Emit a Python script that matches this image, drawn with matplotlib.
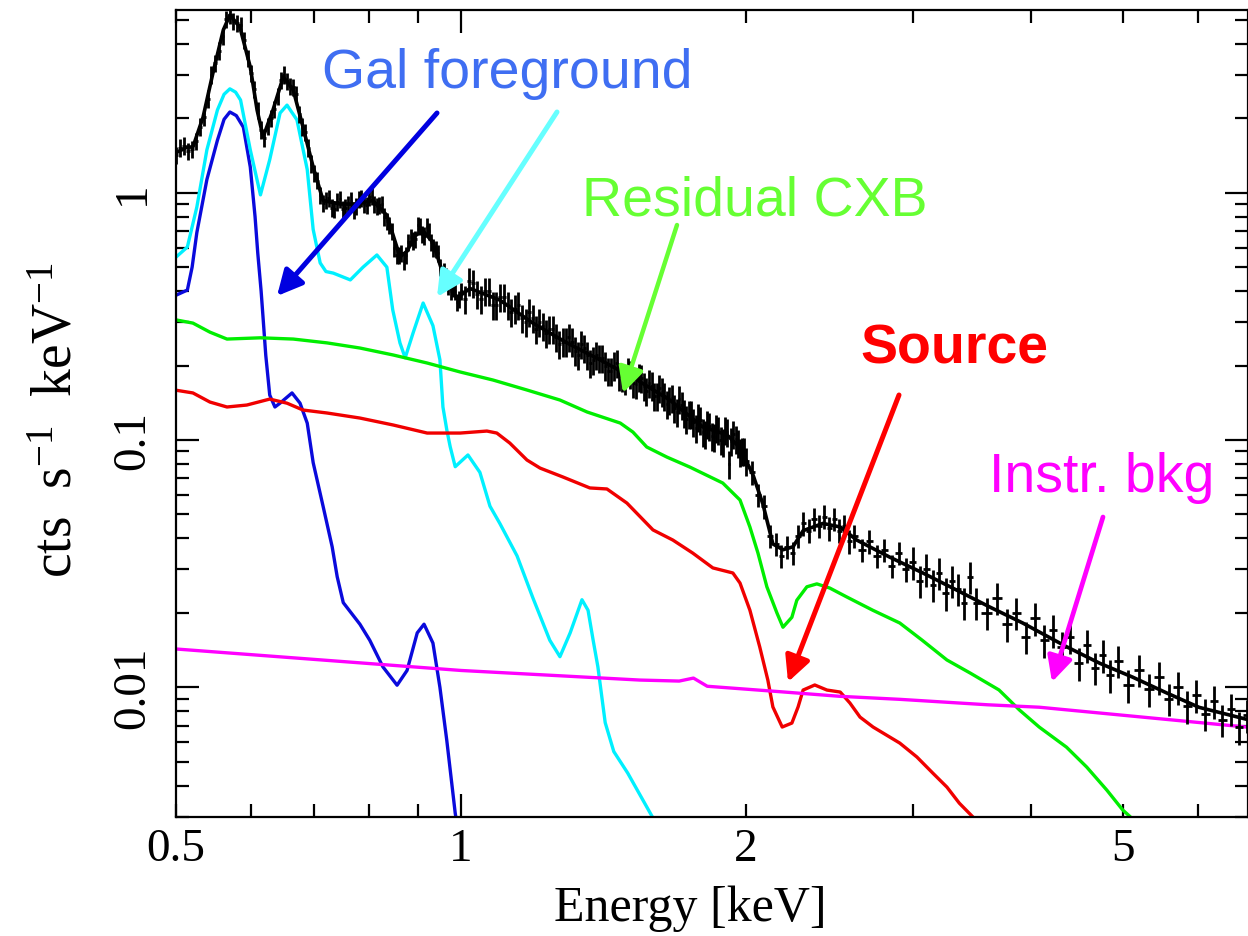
import numpy as np
import matplotlib.pyplot as plt
from matplotlib.ticker import FixedLocator, FixedFormatter

plt.rcParams['mathtext.fontset'] = 'custom'
plt.rcParams['mathtext.rm'] = 'Liberation Serif'
plt.rcParams['mathtext.it'] = 'Liberation Serif:italic'

# ---- data (keV, cts/s/keV) ----
# total model (black line)
tot_e = [0.50, 0.514, 0.521, 0.534, 0.547, 0.561, 0.570, 0.584, 0.599, 0.609, 0.618, 0.633,
         0.649, 0.665, 0.681, 0.698, 0.715, 0.745, 0.776, 0.807, 0.835, 0.862, 0.877, 0.894,
         0.912, 0.934, 0.957, 0.990, 1.022, 1.099, 1.191, 1.294, 1.402, 1.534, 1.662, 1.800,
         1.909, 1.971, 2.035, 2.084, 2.135, 2.188, 2.242, 2.298, 2.411, 2.515, 2.618, 2.837,
         3.075, 3.34, 3.62, 3.92, 4.36, 4.73, 5.12, 5.56, 6.02, 6.78]
tot_y = [1.45, 1.53, 1.53, 2.02, 3.05, 4.55, 5.23, 4.68, 3.22, 2.16, 1.68, 2.16,
         2.94, 2.60, 1.84, 1.27, 0.93, 0.90, 0.90, 0.93, 0.81, 0.55, 0.58, 0.67,
         0.70, 0.63, 0.47, 0.375, 0.41, 0.368, 0.297, 0.247, 0.211, 0.175, 0.145, 0.113,
         0.105, 0.093, 0.072, 0.055, 0.038, 0.036, 0.037, 0.043, 0.046, 0.0445, 0.0394, 0.0336,
         0.029, 0.0247, 0.0211, 0.0182, 0.0146, 0.0125, 0.0110, 0.0095, 0.0083, 0.0074]

# galactic foreground, component 1 (blue)
gal1_e = [0.50, 0.514, 0.520, 0.526, 0.539, 0.553, 0.562, 0.570, 0.579, 0.589, 0.599, 0.606,
          0.610, 0.615, 0.618, 0.622, 0.628, 0.636, 0.644, 0.663, 0.676, 0.688, 0.698, 0.715,
          0.731, 0.740, 0.751, 0.782, 0.801, 0.827, 0.856, 0.877, 0.899, 0.914, 0.934, 0.950,
          0.966, 0.986, 0.995]
gal1_y = [0.385, 0.404, 0.50, 0.69, 1.13, 1.63, 1.98, 2.12, 2.05, 1.84, 1.27, 0.80,
          0.57, 0.40, 0.31, 0.22, 0.152, 0.136, 0.141, 0.155, 0.141, 0.117, 0.081, 0.054,
          0.037, 0.028, 0.022, 0.018, 0.0155, 0.0121, 0.0102, 0.0117, 0.0166, 0.0180, 0.0151, 0.0100,
          0.0061, 0.0031, 0.0025]

# galactic foreground, total (cyan)
gal2_e = [0.50, 0.514, 0.526, 0.539, 0.553, 0.562, 0.570, 0.578, 0.585, 0.599, 0.614, 0.628,
          0.644, 0.655, 0.671, 0.688, 0.698, 0.710, 0.720, 0.733, 0.764, 0.788, 0.815, 0.835,
          0.847, 0.862, 0.873, 0.890, 0.912, 0.934, 0.950, 0.957, 0.966, 0.974, 0.986, 1.017,
          1.047, 1.073, 1.099, 1.146, 1.191, 1.241, 1.272, 1.304, 1.342, 1.362, 1.379, 1.395,
          1.42, 1.45, 1.50, 1.55, 1.60]
gal2_y = [0.549, 0.603, 0.875, 1.49, 2.16, 2.50, 2.63, 2.55, 2.37, 1.49, 0.98, 1.36,
          2.10, 2.26, 1.97, 1.24, 0.71, 0.52, 0.48, 0.473, 0.444, 0.50, 0.56, 0.50,
          0.336, 0.247, 0.215, 0.271, 0.358, 0.29, 0.211, 0.136, 0.110, 0.094, 0.078, 0.087,
          0.074, 0.054, 0.046, 0.034, 0.023, 0.0155, 0.0133, 0.0166, 0.0226, 0.0205, 0.0155, 0.0121,
          0.0072, 0.0055, 0.0045, 0.0036, 0.0029]

# residual CXB (green)
cxb_e = [0.50, 0.521, 0.543, 0.566, 0.614, 0.665, 0.722, 0.782, 0.848, 0.921, 0.998, 1.081,
         1.174, 1.272, 1.359, 1.473, 1.519, 1.571, 1.650, 1.745, 1.890, 1.971, 2.019, 2.059,
         2.104, 2.156, 2.188, 2.236, 2.263, 2.319, 2.376, 2.452, 2.555, 2.722, 2.907, 3.07,
         3.26, 3.45, 3.70, 3.89, 4.08, 4.36, 4.58, 4.81, 5.00, 5.09, 5.2]
cxb_y = [0.306, 0.297, 0.273, 0.256, 0.259, 0.256, 0.247, 0.2355, 0.2207, 0.2048, 0.1884, 0.1748,
         0.1593, 0.1451, 0.1298, 0.1171, 0.1077, 0.0937, 0.0853, 0.0777, 0.0670, 0.0572, 0.0445, 0.0349,
         0.0255, 0.0200, 0.0175, 0.0192, 0.0225, 0.0255, 0.0262, 0.0252, 0.0232, 0.0205, 0.0182, 0.0155,
         0.0129, 0.01142, 0.00976, 0.00809, 0.00691, 0.00573, 0.00476, 0.00384, 0.00319, 0.0030, 0.0027]

# source (red)
src_e = [0.50, 0.521, 0.543, 0.566, 0.594, 0.628, 0.655, 0.681, 0.722, 0.782, 0.848, 0.921,
         0.998, 1.065, 1.091, 1.126, 1.174, 1.212, 1.281, 1.368, 1.426, 1.497, 1.595, 1.674,
         1.757, 1.845, 1.937, 1.971, 2.019, 2.068, 2.109, 2.135, 2.184, 2.236, 2.270, 2.298,
         2.364, 2.435, 2.515, 2.575, 2.639, 2.724, 2.907, 3.03, 3.15, 3.26, 3.36, 3.47, 3.57]
src_y = [0.159, 0.155, 0.1424, 0.136, 0.1385, 0.1464, 0.1409, 0.1322, 0.1286, 0.1227, 0.115, 0.1067,
         0.1067, 0.1087, 0.1067, 0.0972, 0.083, 0.077, 0.0709, 0.064, 0.0634, 0.0556, 0.0433, 0.0394,
         0.0349, 0.0304, 0.029, 0.0264, 0.0205, 0.01455, 0.0107, 0.00833, 0.00691, 0.00717, 0.00833, 0.00975,
         0.01022, 0.00975, 0.00957, 0.00864, 0.00758, 0.00691, 0.00595, 0.00523, 0.0045, 0.00395, 0.0034, 0.0030, 0.0027]

# instrumental background (magenta)
nxb_e = [0.50, 1.00, 1.545, 1.70, 1.76, 1.82, 2.15, 2.51, 2.91, 3.60, 4.08, 6.80]
nxb_y = [0.01429, 0.0117, 0.0107, 0.0106, 0.0109, 0.0101, 0.00963, 0.00920, 0.00894, 0.0085, 0.00831, 0.00689]

# observed spectrum
obs_e_lo = [0.500, 0.505, 0.510, 0.515, 0.520, 0.525, 0.530, 0.535, 0.540, 0.545,
            0.550, 0.555, 0.560, 0.565, 0.570, 0.575, 0.580, 0.585, 0.590, 0.595,
            0.600, 0.605, 0.610, 0.615, 0.620, 0.625, 0.630, 0.635, 0.640, 0.645,
            0.650, 0.655, 0.660, 0.665, 0.670, 0.675, 0.680, 0.685, 0.690, 0.695,
            0.700, 0.705, 0.710, 0.715, 0.720, 0.725, 0.730, 0.735, 0.740, 0.745,
            0.750, 0.755, 0.760, 0.765, 0.770, 0.775, 0.780, 0.785, 0.790, 0.795,
            0.800, 0.805, 0.810, 0.815, 0.820, 0.825, 0.830, 0.835, 0.840, 0.845,
            0.850, 0.855, 0.860, 0.865, 0.870, 0.875, 0.880, 0.885, 0.890, 0.895,
            0.900, 0.905, 0.910, 0.915, 0.920, 0.925, 0.930, 0.935, 0.940, 0.945,
            0.950, 0.955, 0.960, 0.965, 0.970, 0.975, 0.980, 0.985, 0.990, 0.995, 1.000]
obs_y_lo = [1.42, 1.52, 1.55, 1.47, 1.50, 1.62, 1.85, 2.02, 2.40, 3.00,
            3.35, 3.75, 4.30, 5.05, 5.25, 4.95, 4.85, 4.75, 4.15, 3.50,
            3.05, 2.62, 2.15, 1.80, 1.66, 1.86, 2.00, 2.18, 2.45, 2.85,
            3.00, 2.82, 2.70, 2.68, 2.50, 2.08, 1.85, 1.76, 1.52, 1.31,
            1.20, 1.12, 0.98, 0.91, 0.93, 0.95, 0.87, 0.86, 0.92, 0.94,
            0.86, 0.87, 0.90, 0.93, 0.85, 0.88, 0.94, 0.95, 0.90, 0.89,
            0.96, 0.97, 0.90, 0.88, 0.89, 0.90, 0.80, 0.77, 0.74, 0.70,
            0.60, 0.56, 0.56, 0.57, 0.53, 0.56, 0.63, 0.66, 0.64, 0.65,
            0.74, 0.73, 0.68, 0.67, 0.73, 0.70, 0.63, 0.60, 0.59, 0.57,
            0.50, 0.47, 0.48, 0.46, 0.42, 0.40, 0.41, 0.40, 0.36, 0.37, 0.40]
obs_e_mid = [1.01, 1.02, 1.03, 1.04, 1.05, 1.06, 1.07, 1.08, 1.09, 1.10,
             1.11, 1.12, 1.13, 1.14, 1.15, 1.16, 1.17, 1.18, 1.19, 1.20,
             1.21, 1.22, 1.23, 1.24, 1.25, 1.26, 1.27, 1.28, 1.29, 1.30,
             1.31, 1.32, 1.33, 1.34, 1.35, 1.36, 1.37, 1.38, 1.39, 1.40,
             1.41, 1.42, 1.43, 1.44, 1.45, 1.46, 1.47, 1.48, 1.49, 1.50,
             1.51, 1.52, 1.53, 1.54, 1.55, 1.56, 1.57, 1.58, 1.59, 1.60,
             1.61, 1.62, 1.63, 1.64, 1.65, 1.66, 1.67, 1.68, 1.69, 1.70,
             1.71, 1.72, 1.73, 1.74, 1.75, 1.76, 1.77, 1.78, 1.79, 1.80,
             1.81, 1.82, 1.83, 1.84, 1.85, 1.86, 1.87, 1.88, 1.89, 1.90,
             1.91, 1.92, 1.93, 1.94, 1.95, 1.96, 1.97, 1.98, 1.99, 2.00]
obs_y_mid = [0.37, 0.44, 0.43, 0.39, 0.37, 0.40, 0.40, 0.35, 0.35, 0.38,
             0.38, 0.35, 0.33, 0.34, 0.35, 0.31, 0.30, 0.33, 0.31, 0.28,
             0.30, 0.29, 0.27, 0.28, 0.28, 0.26, 0.245, 0.25, 0.25, 0.26,
             0.25, 0.23, 0.22, 0.245, 0.235, 0.22, 0.205, 0.21, 0.22, 0.215,
             0.215, 0.20, 0.19, 0.19, 0.20, 0.205, 0.182, 0.18, 0.175, 0.19,
             0.185, 0.17, 0.168, 0.18, 0.178, 0.165, 0.158, 0.17, 0.166, 0.15,
             0.150, 0.162, 0.157, 0.15, 0.140, 0.145, 0.148, 0.135, 0.130, 0.147,
             0.138, 0.128, 0.122, 0.127, 0.127, 0.118, 0.112, 0.124, 0.120, 0.108,
             0.106, 0.116, 0.114, 0.104, 0.103, 0.112, 0.110, 0.100, 0.098, 0.110,
             0.108, 0.080, 0.099, 0.106, 0.101, 0.097, 0.089, 0.090, 0.090, 0.082]
obs_e_hi = [2.03, 2.06, 2.09, 2.12, 2.15, 2.18, 2.21, 2.24, 2.27, 2.30,
            2.33, 2.36, 2.39, 2.42, 2.45, 2.48, 2.51, 2.54, 2.57, 2.60,
            2.65, 2.70, 2.75, 2.80, 2.85, 2.90, 2.95, 3.00, 3.05, 3.10,
            3.15, 3.20, 3.25, 3.30, 3.35, 3.40, 3.45, 3.50,
            3.59, 3.68, 3.77, 3.86, 3.95, 4.04, 4.13, 4.22, 4.31, 4.40,
            4.49, 4.58, 4.67, 4.76, 4.85, 4.94,
            5.07, 5.20, 5.33, 5.46, 5.59, 5.72, 5.85, 5.98, 6.11, 6.24,
            6.37, 6.50, 6.63, 6.76]
obs_y_hi = [0.074, 0.060, 0.054, 0.041, 0.038, 0.034, 0.037, 0.035, 0.041, 0.046,
            0.043, 0.048, 0.045, 0.049, 0.044, 0.048, 0.043, 0.045, 0.039, 0.041,
            0.036, 0.039, 0.034, 0.036, 0.031, 0.035, 0.030, 0.032, 0.027, 0.030,
            0.026, 0.029, 0.024, 0.027, 0.025, 0.022, 0.028, 0.022,
            0.020, 0.023, 0.018, 0.020, 0.016, 0.019, 0.0155, 0.017, 0.0145, 0.016,
            0.0125, 0.0148, 0.0120, 0.0135, 0.0112, 0.0128,
            0.0102, 0.0118, 0.0098, 0.0110, 0.0090, 0.0100, 0.0084, 0.0093, 0.0078, 0.0088,
            0.0074, 0.0082, 0.0069, 0.0077]
# relative 1-sigma errors per part of the spectrum
err_lo, err_mid, err_hi_a, err_hi_b = 0.08, 0.13, 0.11, 0.15

# ---- figure ----
W, H = 1248, 936
fig = plt.figure(figsize=(W / 100, H / 100), dpi=100)
ax = fig.add_axes([176 / W, 1 - 817 / H, (W - 176) / W, (817 - 10) / H])
ax.set_xscale('log')
ax.set_yscale('log')

obs_e = np.array(obs_e_lo + obs_e_mid + obs_e_hi)
obs_y = np.array(obs_y_lo + obs_y_mid + obs_y_hi)
frac = np.array([err_lo] * len(obs_e_lo) + [err_mid] * len(obs_e_mid)
                + [err_hi_a if e < 3.0 else err_hi_b for e in obs_e_hi])
edges = np.sqrt(obs_e[1:] * obs_e[:-1])
lo = np.concatenate([[obs_e[0] - (edges[0] - obs_e[0])], edges])
hi = np.concatenate([edges, [obs_e[-1] + (obs_e[-1] - edges[-1])]])
ax.errorbar(obs_e, obs_y, xerr=[obs_e - lo, hi - obs_e], yerr=obs_y * frac,
            fmt='none', ecolor='black', elinewidth=2.0, capsize=0, zorder=3)

ax.plot(tot_e, tot_y, color='black', lw=2.6, zorder=4)
ax.plot(gal1_e, gal1_y, color='#0a0adc', lw=2.4, zorder=2)
ax.plot(gal2_e, gal2_y, color='#00f0ff', lw=2.4, zorder=2)
ax.plot(cxb_e, cxb_y, color='#00ee00', lw=2.4, zorder=2)
ax.plot(src_e, src_y, color='#f00000', lw=2.4, zorder=2)
ax.plot(nxb_e, nxb_y, color='#ff00ff', lw=2.4, zorder=2)

ax.set_xlim(0.5, 6.78)
ax.set_ylim(0.00299, 5.48)

serif = 'Liberation Serif'
ax.xaxis.set_major_locator(FixedLocator([1]))
ax.xaxis.set_major_formatter(FixedFormatter(['1']))
ax.xaxis.set_minor_locator(FixedLocator([0.5, 0.6, 0.7, 0.8, 0.9, 2, 3, 4, 5, 6, 7, 8, 9]))
ax.xaxis.set_minor_formatter(FixedFormatter(['0.5', '', '', '', '', '2', '', '', '5', '', '', '', '']))
ax.yaxis.set_major_locator(FixedLocator([0.01, 0.1, 1]))
ax.yaxis.set_major_formatter(FixedFormatter(['0.01', '0.1', '1']))
ax.yaxis.set_minor_locator(FixedLocator([m * 10.0 ** k for k in (-3, -2, -1, 0) for m in range(2, 10)]))
ax.yaxis.set_minor_formatter(FixedFormatter([]))

ax.tick_params(which='both', direction='in', top=True, right=True, width=1.6, colors='black')
ax.tick_params(which='major', length=16.5)
ax.tick_params(which='minor', length=9.5)
ax.tick_params(axis='x', which='both', labelsize=34, pad=8)
ax.tick_params(axis='y', which='both', labelsize=34, pad=16)
for lab in ax.get_xticklabels(which='both'):
    lab.set_fontfamily(serif)
for lab in ax.get_yticklabels(which='both'):
    lab.set_fontfamily(serif)
    lab.set_rotation(90)
    lab.set_va('center')
for sp in ax.spines.values():
    sp.set_linewidth(1.6)

ax.set_xlabel('Energy [keV]', fontsize=36, fontfamily=serif)
ax.xaxis.set_label_coords((690 - 176) / (W - 176), (817 - 909) / 807)
ax.xaxis.label.set_va('center')
ax.set_ylabel(r'cts  s$^{-1}$  keV$^{-1}$', fontsize=40, fontfamily=serif)
ax.yaxis.set_label_coords((58 - 176) / (W - 176), (817 - 420) / 807)
ax.yaxis.label.set_va('center')


def fp(px, py):
    return (px / W, 1 - py / H)


sans = 'Liberation Sans'
labels = [
    ('Gal foreground', (507, 88), '#3f6ef2', 'normal', (437, 113), (277, 296), '#0000e0', 3.6),
    ('Residual CXB', (755, 215), '#66ff33', 'normal', (677, 225), (623, 393), '#66ff33', 3.2),
    ('Source', (954, 363), '#ff0000', 'bold', (899, 395), (788, 682), '#ff0000', 3.6),
    ('Instr. bkg', (1102, 492), '#ff00ff', 'normal', (1103, 517), (1052, 682), '#ff00ff', 3.4),
]
for text, pos, tcol, weight, tail, head, acol, alw in labels:
    fig.text(*fp(*pos), text, color=tcol, fontsize=40, fontfamily=sans,
             fontweight=weight, ha='center', va='baseline')
    ax.annotate('', xy=fp(*head), xycoords='figure fraction',
                xytext=fp(*tail), textcoords='figure fraction', zorder=6,
                arrowprops=dict(arrowstyle='-|>', color=acol, lw=alw,
                                mutation_scale=38, shrinkA=0, shrinkB=0))
# cyan arrow shares the Gal foreground label
ax.annotate('', xy=fp(437, 297), xycoords='figure fraction',
            xytext=fp(557, 112), textcoords='figure fraction', zorder=6,
            arrowprops=dict(arrowstyle='-|>', color='#66ffff', lw=3.6,
                            mutation_scale=38, shrinkA=0, shrinkB=0))

fig.savefig('out.png', dpi=100)
